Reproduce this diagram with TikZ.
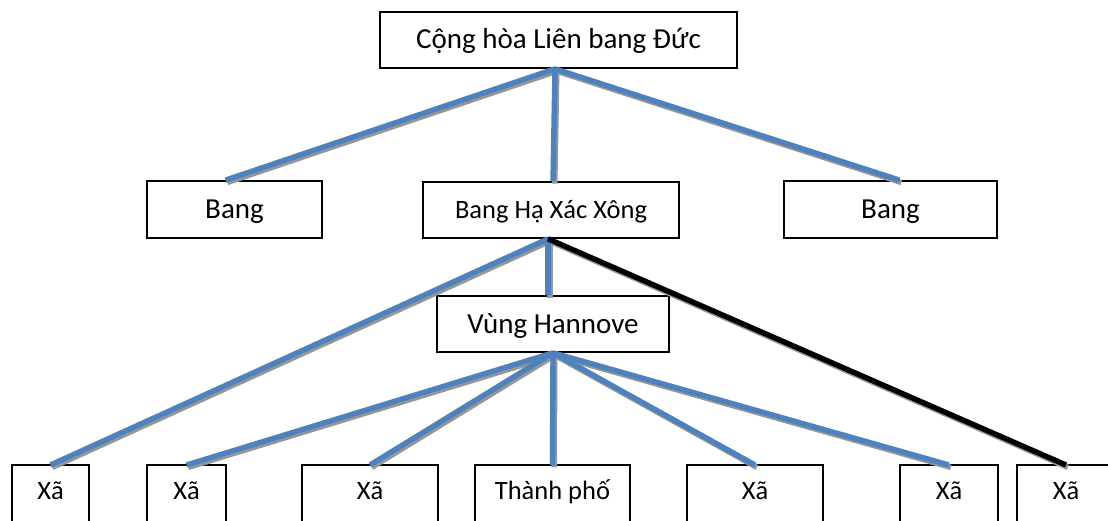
\documentclass[tikz,border=0pt]{standalone}
\usepackage{fontspec}
\setmainfont{Carlito}
\definecolor{lineblue}{HTML}{4F81BD}
\definecolor{shadowgray}{HTML}{969696}
\begin{document}
\begin{tikzpicture}[x=1pt,y=-1pt,
  box/.style={draw=black, line width=1.7pt, rectangle, inner sep=0pt, text height=22pt, text depth=4pt},
  big/.style={font=\fontsize{29}{33}\selectfont},
  mid/.style={font=\fontsize{26.5}{30}\selectfont},
  leaf/.style={draw=none, rectangle, anchor=north, inner xsep=0pt, inner ysep=0pt, text height=34pt, text depth=16pt, font=\fontsize{26.5}{30}\selectfont},
  shad/.style={line width=5.4pt, draw=shadowgray, transform canvas={shift={(1.8pt,-2.4pt)}}},
  conn/.style={line width=5.4pt, draw=lineblue},
  connk/.style={line width=5.4pt, draw=black},
  leafbox/.style={draw=black, line width=1.7pt}
]
\useasboundingbox (0,0) rectangle (1108,521);
\clip (0,0) rectangle (1108,521);

% top level
\node[box,big,minimum width=357pt,minimum height=56pt] (top) at (558.5,40) {Cộng hòa Liên bang Đức};
% second level
\node[box,big,minimum width=175pt,minimum height=57pt] (bang1) at (234.5,209.5) {Bang};
\node[box,mid,minimum width=256pt,minimum height=56pt] (hxx) at (551,210) {Bang Hạ Xác Xông};
\node[box,big,minimum width=213pt,minimum height=57pt] (bang3) at (890.5,209.5) {Bang};
% third level
\node[box,big,minimum width=232pt,minimum height=56pt] (vung) at (553,324) {Vùng Hannove};
% leaves
\node[leaf,minimum width=77pt] (x1) at (50.5,465) {Xã};
\node[leaf,minimum width=79pt] (x2) at (186.5,465) {Xã};
\node[leaf,minimum width=136pt] (x3) at (370,465) {Xã};
\node[leaf,minimum width=155pt] (tp) at (552.5,465) {Thành phố};
\node[leaf,minimum width=136pt] (x5) at (755,465) {Xã};
\node[leaf,minimum width=98pt] (x6) at (949,465) {Xã};
\node[leaf,minimum width=98pt] (x7) at (1066,465) {Xã};
\foreach \n in {x1,x2,x3,tp,x5,x6,x7}{
  \draw[leafbox] ([yshift=-30pt]\n.south west) -- (\n.north west) -- (\n.north east) -- ([yshift=-30pt]\n.south east);
}

% apex points
\coordinate (a0) at ([xshift=-3.5pt]top.south);
\coordinate (a1) at ([xshift=-3pt]hxx.south);
\coordinate (a2) at (vung.south);
% connector ends
\coordinate (e1) at ([xshift=-9pt]bang1.north);
\coordinate (e2) at ([xshift=2pt]hxx.north);
\coordinate (e3) at ([xshift=9pt]bang3.north);
\coordinate (e4) at ([xshift=-5pt]vung.north);

% shadows
\foreach \s/\t in {a0/e1,a0/e2,a0/e3,a1/x1.north,a1/e4,a1/x7.north,a2/x2.north,a2/x3.north,a2/tp.north,a2/x5.north,a2/x6.north}{
  \draw[shad] (\s) -- (\t);
}
% connectors
\draw[conn] (a0) -- (e1);
\draw[conn] (a0) -- (e2);
\draw[conn] (a0) -- (e3);
\draw[conn] (a1) -- (x1.north);
\draw[conn] (a1) -- (e4);
\draw[connk] (a1) -- (x7.north);
\draw[conn] (a2) -- (x2.north);
\draw[conn] (a2) -- (x3.north);
\draw[conn] (a2) -- (tp.north);
\draw[conn] (a2) -- (x5.north);
\draw[conn] (a2) -- (x6.north);
\end{tikzpicture}
\end{document}
